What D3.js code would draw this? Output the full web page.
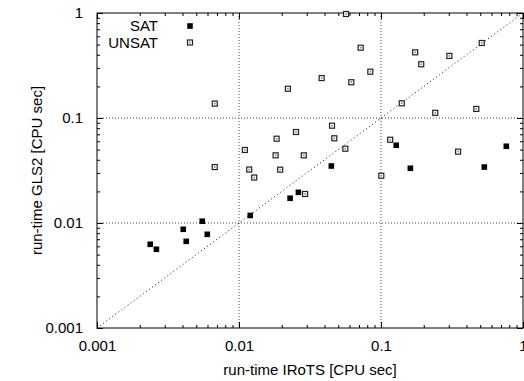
<!DOCTYPE html>
<html>
<head>
<meta charset="utf-8">
<script src="https://cdn.jsdelivr.net/npm/d3@7"></script>
<style>
  body { margin: 0; background: #fff; }
  text { font-family: "Liberation Sans", Arial, Helvetica, sans-serif; }
</style>
</head>
<body>
<svg id="chart"></svg>
<script>
// tick values and labels (both axes)
const decadeTicks = [0.001, 0.01, 0.1, 1];
const tickLabels = ["0.001", "0.01", "0.1", "1"];
const gridValues = [0.01, 0.1];

// SAT instances: run-time IRoTS (x) vs GLS2 (y)
const satIrots = [0.128, 0.763, 0.0447, 0.161, 0.534, 0.0229, 0.0262, 0.0120, 0.00551, 0.00405, 0.00598, 0.00425, 0.00237, 0.00262];
const satGls2  = [0.0550, 0.0538, 0.0349, 0.0332, 0.0341, 0.0172, 0.0196, 0.0118, 0.0104, 0.00871, 0.00780, 0.00669, 0.00627, 0.00562];

// UNSAT instances
const unsatIrots = [0.0221, 0.00675, 0.0252, 0.0184, 0.0110, 0.0181, 0.0286, 0.00675, 0.0118, 0.0195,
  0.0128, 0.0567, 0.0719, 0.174, 0.303, 0.512, 0.192, 0.0841, 0.0382, 0.0618,
  0.140, 0.241, 0.469, 0.0452, 0.0469, 0.0561, 0.116, 0.349, 0.1005, 0.0292];
const unsatGls2 = [0.190, 0.137, 0.0736, 0.0635, 0.0496, 0.0441, 0.0441, 0.0341, 0.0323, 0.0322,
  0.0271, 0.978, 0.467, 0.422, 0.390, 0.518, 0.325, 0.276, 0.240, 0.219,
  0.138, 0.112, 0.122, 0.0845, 0.0641, 0.0510, 0.0621, 0.0478, 0.0282, 0.0189];

const legendLabels = ["SAT", "UNSAT"];

const width = 524, height = 381;
const margin = {top: 13, right: 1, bottom: 53, left: 97};
const innerW = width - margin.left - margin.right;
const innerH = height - margin.top - margin.bottom;

const svg = d3.select("#chart")
  .attr("width", width)
  .attr("height", height)
  .style("display", "block");

svg.append("rect").attr("width", width).attr("height", height).attr("fill", "#fff");

const g = svg.append("g").attr("transform", `translate(${margin.left},${margin.top})`);

const x = d3.scaleLog().domain([0.001, 1]).range([0, innerW]);
const y = d3.scaleLog().domain([0.001, 1]).range([innerH, 0]);

// minor ticks 2..9 within each decade
const minorTicks = [];
for (const d of decadeTicks.slice(0, -1)) {
  for (let k = 2; k <= 9; k++) minorTicks.push(d * k);
}

const fmt = d => tickLabels[decadeTicks.indexOf(d)];

// Grid
g.append("g")
  .selectAll("line.gx")
  .data(gridValues)
  .join("line")
  .attr("x1", d => x(d)).attr("x2", d => x(d))
  .attr("y1", 0).attr("y2", innerH)
  .attr("stroke", "#444").attr("stroke-width", 1).attr("stroke-dasharray", "1,2");

g.append("g")
  .selectAll("line.gy")
  .data(gridValues)
  .join("line")
  .attr("x1", 0).attr("x2", innerW)
  .attr("y1", d => y(d)).attr("y2", d => y(d))
  .attr("stroke", "#444").attr("stroke-width", 1).attr("stroke-dasharray", "1,2");

// Diagonal y = x
g.append("line")
  .attr("x1", x(0.001)).attr("y1", y(0.001))
  .attr("x2", x(1)).attr("y2", y(1))
  .attr("stroke", "#333").attr("stroke-width", 1).attr("stroke-dasharray", "1.2,2.6");

// Axes (ticks drawn inward, mirrored on all four sides)
function styleAxis(sel) {
  sel.select(".domain").remove();
  sel.selectAll(".tick line").attr("stroke", "#000");
  sel.selectAll("text")
    .attr("fill", "#000")
    .attr("font-size", "15px")
    .attr("font-family", "'Liberation Sans', Arial, sans-serif");
}

g.append("g")
  .attr("transform", `translate(0,${innerH})`)
  .call(d3.axisBottom(x).tickValues(decadeTicks).tickFormat(fmt).tickSizeInner(-6).tickSizeOuter(0).tickPadding(12))
  .call(styleAxis);
g.append("g")
  .attr("transform", `translate(0,${innerH})`)
  .call(d3.axisBottom(x).tickValues(minorTicks).tickFormat("").tickSizeInner(-3).tickSizeOuter(0))
  .call(styleAxis);
g.append("g")
  .call(d3.axisTop(x).tickValues(decadeTicks).tickFormat("").tickSizeInner(-6).tickSizeOuter(0))
  .call(styleAxis);
g.append("g")
  .call(d3.axisTop(x).tickValues(minorTicks).tickFormat("").tickSizeInner(-3).tickSizeOuter(0))
  .call(styleAxis);

g.append("g")
  .call(d3.axisLeft(y).tickValues(decadeTicks).tickFormat(fmt).tickSizeInner(-6).tickSizeOuter(0).tickPadding(14))
  .call(styleAxis);
g.append("g")
  .call(d3.axisLeft(y).tickValues(minorTicks).tickFormat("").tickSizeInner(-3).tickSizeOuter(0))
  .call(styleAxis);
g.append("g")
  .attr("transform", `translate(${innerW},0)`)
  .call(d3.axisRight(y).tickValues(decadeTicks).tickFormat("").tickSizeInner(-6).tickSizeOuter(0))
  .call(styleAxis);
g.append("g")
  .attr("transform", `translate(${innerW},0)`)
  .call(d3.axisRight(y).tickValues(minorTicks).tickFormat("").tickSizeInner(-3).tickSizeOuter(0))
  .call(styleAxis);

// Border
g.append("rect")
  .attr("x", 0).attr("y", 0)
  .attr("width", innerW).attr("height", innerH)
  .attr("fill", "none").attr("stroke", "#000").attr("stroke-width", 1);

// Points
const sat = satIrots.map((v, i) => ({x: v, y: satGls2[i]}));
const unsat = unsatIrots.map((v, i) => ({x: v, y: unsatGls2[i]}));

function drawUnsat(sel) {
  sel.append("rect")
    .attr("x", -2.5).attr("y", -2.5).attr("width", 5).attr("height", 5)
    .attr("fill", "#fff").attr("stroke", "#222").attr("stroke-width", 1.2);
  sel.append("rect")
    .attr("x", -0.75).attr("y", -0.75).attr("width", 1.5).attr("height", 1.5)
    .attr("fill", "#777");
}

function drawSat(sel) {
  sel.append("rect")
    .attr("x", -2.8).attr("y", -2.8).attr("width", 5.6).attr("height", 5.6)
    .attr("fill", "#000");
}

g.append("g")
  .selectAll("g")
  .data(unsat)
  .join("g")
  .attr("transform", d => `translate(${x(d.x)},${y(d.y)})`)
  .call(drawUnsat);

g.append("g")
  .selectAll("g")
  .data(sat)
  .join("g")
  .attr("transform", d => `translate(${x(d.x)},${y(d.y)})`)
  .call(drawSat);

// Legend
const legend = svg.append("g");
legendLabels.forEach((label, i) => {
  const ly = 26 + i * 16.5;
  legend.append("text")
    .attr("x", 158).attr("y", ly + 5)
    .attr("text-anchor", "end")
    .attr("font-size", "15px")
    .attr("fill", "#000")
    .text(label);
  const m = legend.append("g").attr("transform", `translate(190,${ly})`);
  if (i === 0) drawSat(m); else drawUnsat(m);
});

// Axis titles
svg.append("text")
  .attr("x", margin.left + innerW / 2)
  .attr("y", 375)
  .attr("text-anchor", "middle")
  .attr("font-size", "15px")
  .attr("fill", "#000")
  .text("run-time IRoTS [CPU sec]");

svg.append("text")
  .attr("transform", `translate(42,${margin.top + innerH / 2}) rotate(-90)`)
  .attr("text-anchor", "middle")
  .attr("font-size", "15px")
  .attr("fill", "#000")
  .text("run-time GLS2 [CPU sec]");
</script>
</body>
</html>
